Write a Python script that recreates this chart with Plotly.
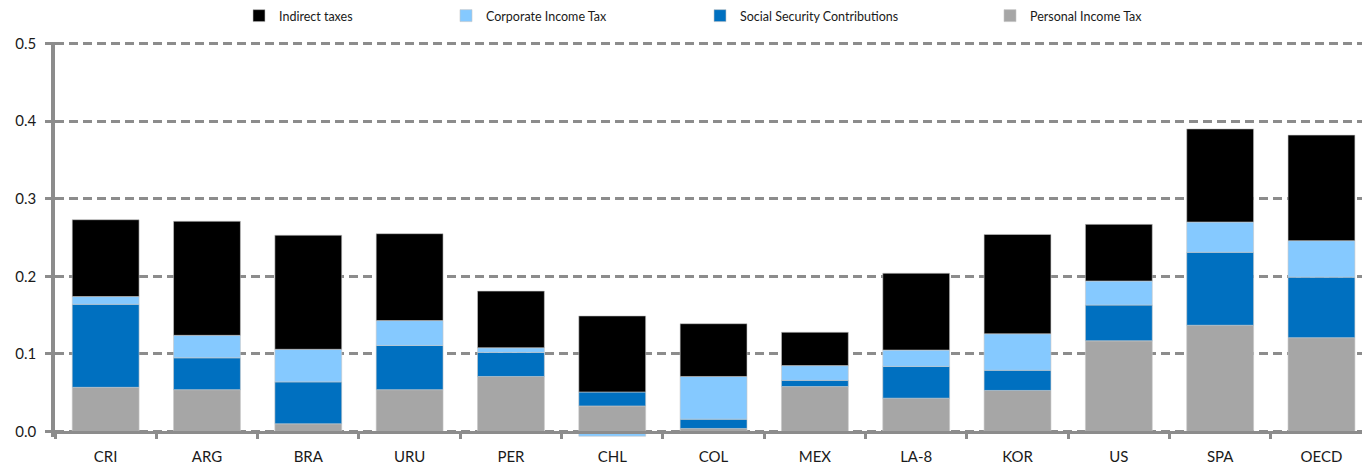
import plotly.graph_objects as go

countries = ["CRI", "ARG", "BRA", "URU", "PER", "CHL", "COL", "MEX", "LA-8", "KOR", "US", "SPA", "OECD"]

personal_income = [0.057, 0.054, 0.010, 0.054, 0.071, 0.033, 0.004, 0.058, 0.043, 0.053, 0.117, 0.137, 0.121]
social_security = [0.107, 0.041, 0.054, 0.057, 0.031, 0.018, 0.012, 0.008, 0.041, 0.026, 0.046, 0.094, 0.078]
corporate_income = [0.010, 0.029, 0.042, 0.032, 0.006, -0.006, 0.055, 0.019, 0.021, 0.047, 0.031, 0.039, 0.047]
indirect_taxes = [0.099, 0.147, 0.147, 0.112, 0.073, 0.098, 0.068, 0.043, 0.099, 0.128, 0.073, 0.120, 0.136]

GRID = "#8c8c8c"
FONT = "Lato, Open Sans, sans-serif"

W, H = 1362, 469
ML, MR, MT, MB = 55, 0, 42, 32
plot_w = W - ML - MR
plot_h = H - MT - MB
y_min, y_max = -0.007, 0.502


def px_x(px):
    return (px - ML) / plot_w


def px_y(py):
    return (H - MB - py) / plot_h


# stacking from bottom to top, each with its own legend placed like the original
series = [
    ("Personal Income Tax", personal_income, "#a6a6a6", "legend4", 1025),
    ("Social Security Contributions", social_security, "#0070c0", "legend3", 735),
    ("Corporate Income Tax", corporate_income, "#85c9ff", "legend2", 481),
    ("Indirect taxes", indirect_taxes, "#000000", "legend", 274),
]

fig = go.Figure()
for name, vals, color, leg, _ in series:
    fig.add_trace(go.Bar(
        x=countries, y=vals, name=name, legend=leg,
        marker=dict(color=color, line=dict(color="#c8c8c8", width=0.6)),
    ))

legend_cfg = {}
for name, vals, color, leg, text_x in series:
    legend_cfg[leg] = dict(
        x=px_x(text_x - 35), xanchor="left",
        y=px_y(16), yanchor="middle",
        bgcolor="rgba(0,0,0,0)",
        font=dict(family=FONT, size=12.5, color="#1a1a1a"),
        itemwidth=30,
    )

fig.update_layout(
    width=W, height=H,
    margin=dict(l=ML, r=MR, t=MT, b=MB, autoexpand=False),
    barmode="relative",
    bargap=0.34,
    plot_bgcolor="white",
    paper_bgcolor="white",
    font=dict(family=FONT, color="#1a1a1a"),
    showlegend=True,
    **legend_cfg,
)

fig.update_xaxes(
    type="category",
    range=[-0.5, 12.4],
    anchor="free",
    position=(0 - y_min) / (y_max - y_min),
    showline=True, linecolor=GRID, linewidth=3,
    ticks="outside", tickson="boundaries", ticklen=5, tickwidth=3, tickcolor=GRID,
    ticklabelstandoff=10,
    tickfont=dict(family=FONT, size=15, color="#1a1a1a"),
    showgrid=False, zeroline=False, automargin=False,
)

fig.update_yaxes(
    range=[y_min, y_max],
    tick0=0, dtick=0.1, tickformat=".1f",
    showline=True, linecolor=GRID, linewidth=3.5,
    ticks="outside", ticklen=6, tickwidth=3, tickcolor=GRID,
    ticklabelstandoff=6,
    tickfont=dict(family=FONT, size=15, color="#1a1a1a"),
    showgrid=True, gridcolor=GRID, gridwidth=3, griddash="9px,5px",
    zeroline=False, automargin=False,
)

fig.write_html("out.html", config={"displayModeBar": False},
               post_script="document.body.style.margin='0';")
